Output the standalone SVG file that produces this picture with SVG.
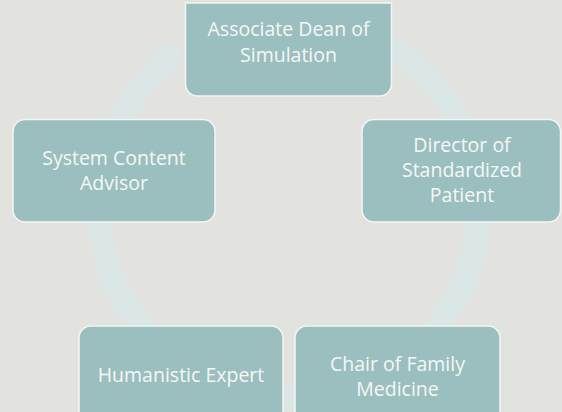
<svg xmlns="http://www.w3.org/2000/svg" width="562" height="412" viewBox="0 0 562 412">
  <style>
    .box { fill: #9bbfbf; stroke: #f4f6f5; stroke-width: 1.5; }
    .lbl { font-family: "Open Sans", "Noto Sans", "Liberation Sans", sans-serif; font-size: 19.5px; fill: #f5f7f6; text-anchor: middle; }
    .ring { fill: none; stroke: #dbe6e7; stroke-width: 24; }
    .head { fill: #dbe6e7; }
  </style>
  <rect x="0" y="0" width="562" height="412" fill="#e2e2de"/>
  <g id="connectors">
    <path class="ring" d="M208.7,34.8 A190,190 0 1 1 164.4,63.6"/>
    <polygon class="head" points="150.5,44 181.5,46.5 176.5,78"/>
  </g>
  <g id="node-associate-dean">
    <path class="box" d="M185.5,3 H391.5 V84 A12,12 0 0 1 379.5,96 H197.5 A12,12 0 0 1 185.5,84 Z"/>
    <text class="lbl" x="288.5" y="36">Associate Dean of</text>
    <text class="lbl" x="288.5" y="62">Simulation</text>
  </g>
  <g id="node-director">
    <rect class="box" x="362" y="119.5" width="198.5" height="102.5" rx="12"/>
    <text class="lbl" x="462" y="151.5">Director of</text>
    <text class="lbl" x="462" y="176.5">Standardized</text>
    <text class="lbl" x="462" y="201.5">Patient</text>
  </g>
  <g id="node-chair">
    <rect class="box" x="295" y="326" width="205" height="110" rx="12"/>
    <text class="lbl" x="397.5" y="371">Chair of Family</text>
    <text class="lbl" x="397.5" y="396">Medicine</text>
  </g>
  <g id="node-humanistic">
    <rect class="box" x="79" y="326" width="204" height="110" rx="12"/>
    <text class="lbl" x="181" y="381.5">Humanistic Expert</text>
  </g>
  <g id="node-system-content">
    <rect class="box" x="13" y="119.5" width="202" height="102.5" rx="12"/>
    <text class="lbl" x="114" y="165">System Content</text>
    <text class="lbl" x="114" y="190">Advisor</text>
  </g>
</svg>
